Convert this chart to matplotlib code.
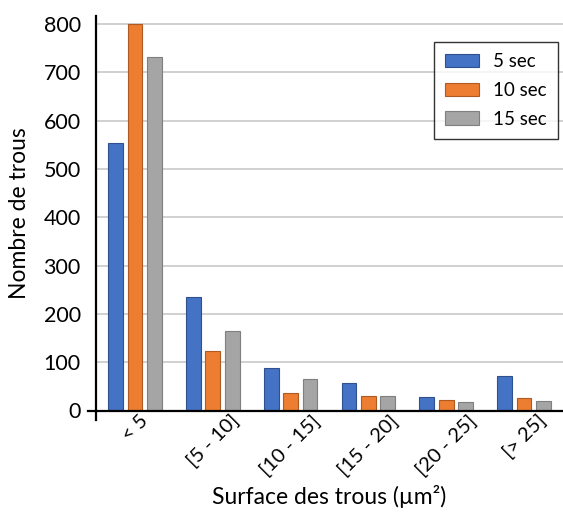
import matplotlib
matplotlib.use("Agg")
import matplotlib.pyplot as plt
import numpy as np

categories = ["< 5", "[5 - 10]", "[10 - 15]", "[15 - 20]", "[20 - 25]", "[> 25]"]
series_names = ["5 sec", "10 sec", "15 sec"]
s5 = [554, 235, 88, 56, 28, 72]
s10 = [800, 123, 36, 30, 21, 25]
s15 = [733, 164, 66, 31, 18, 20]
yticks = [0, 100, 200, 300, 400, 500, 600, 700, 800]

colors = ["#4472C4", "#ED7D31", "#A5A5A5"]
edges = ["#2F528F", "#AE5A21", "#7F7F7F"]

plt.rcParams['font.family'] = ['Lato', 'DejaVu Sans']

W, H = 563, 515
fig = plt.figure(figsize=(W / 100, H / 100), dpi=100)
ax = fig.add_axes([96 / W, 1 - 410.5 / H, (563 - 96) / W, (410.5 - 16) / H])

x = np.arange(len(categories))
bw = 0.19
step = 0.25
for i, (vals, c, ec, name) in enumerate(zip([s5, s10, s15], colors, edges, series_names)):
    ax.bar(x + (i - 1) * step, vals, width=bw, color=c, edgecolor=ec, linewidth=0.8,
           label=name, zorder=3)

ax.set_xlim(-0.5, len(categories) - 0.5)
ax.set_ylim(0, 817)
ax.set_yticks(yticks)
ax.set_yticklabels([str(v) for v in yticks], fontsize=15.5)
ax.yaxis.grid(True, color="#D0D0D0", linewidth=1.4, zorder=0)
ax.set_axisbelow(True)
ax.tick_params(axis='y', length=0, pad=11)
ax.tick_params(axis='x', length=0, pad=1)
ax.set_xticks(x)
ax.set_xticklabels(categories, rotation=45, ha='center', va='top',
                   rotation_mode='default', fontsize=14.5)

for s in ['top', 'right', 'left', 'bottom']:
    ax.spines[s].set_visible(False)

# axis lines (extend slightly past the origin, Excel style)
ax.plot([-0.5 - 8 / 78, 5.5], [0, 0], color='black', lw=1.6, clip_on=False, zorder=4)
ax.plot([-0.5, -0.5], [-10 / 0.483, 817], color='black', lw=1.6, clip_on=False, zorder=4)

ax.set_ylabel("Nombre de trous", fontsize=16.5)
ax.set_xlabel("Surface des trous (µm²)", fontsize=16.5)
ax.yaxis.set_label_coords(-(96 - 20) / (563 - 96), 0.5)
ax.xaxis.set_label_coords(0.5, -(497 - 410.5) / (410.5 - 16))
ax.xaxis.label.set_va('center')
ax.yaxis.label.set_va('center')

leg = ax.legend(loc='upper right', bbox_to_anchor=((558 - 96) / (563 - 96), (410.5 - 42) / (410.5 - 16)),
                fontsize=13.5, frameon=True, fancybox=False, edgecolor='black',
                handlelength=1.8, handleheight=0.7, borderpad=0.6, labelspacing=0.62,
                handletextpad=0.75, borderaxespad=0)
leg.get_frame().set_linewidth(1.0)
leg.set_zorder(5)

fig.savefig("out.png", dpi=100)
